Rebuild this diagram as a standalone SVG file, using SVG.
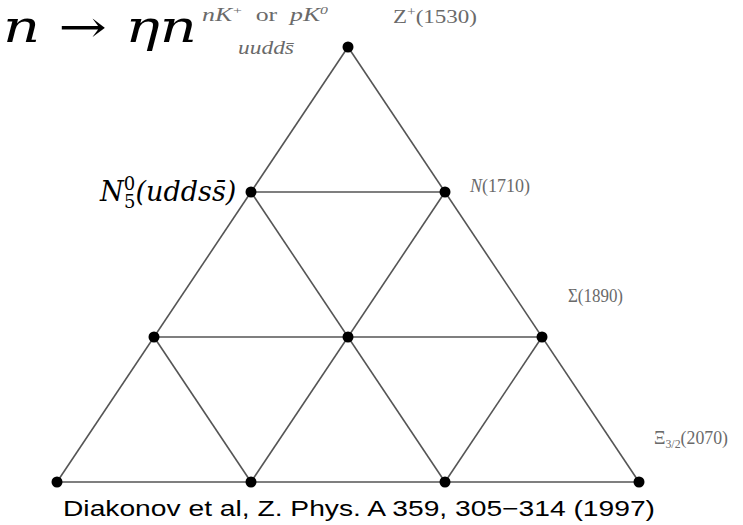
<svg xmlns="http://www.w3.org/2000/svg" width="743" height="525" viewBox="0 0 743 525">
<style>
.edge{stroke:#555;stroke-width:1.6;fill:none}
.dot{fill:#000}
.lbl{font-family:"Liberation Serif","DejaVu Serif",serif;font-size:18px;fill:#6a6a6a}
.math{font-family:"DejaVu Serif","Liberation Serif",serif;font-style:italic;fill:#000}
.cite{font-family:"Liberation Sans","Noto Sans",sans-serif;font-size:22px;fill:#000}
</style>
<rect width="743" height="525" fill="#fff"/>
<g id="connectors">
<line class="edge" x1="348" y1="47" x2="57" y2="482"/>
<line class="edge" x1="348" y1="47" x2="639" y2="482"/>
<line class="edge" x1="57" y1="482" x2="639" y2="482"/>
<line class="edge" x1="251" y1="192" x2="445" y2="192"/>
<line class="edge" x1="154" y1="337" x2="542" y2="337"/>
<line class="edge" x1="445" y1="192" x2="251" y2="482"/>
<line class="edge" x1="542" y1="337" x2="445" y2="482"/>
<line class="edge" x1="251" y1="192" x2="445" y2="482"/>
<line class="edge" x1="154" y1="337" x2="251" y2="482"/>
</g>
<g id="Z1530"><circle class="dot" cx="348" cy="47" r="5.5"/><text class="lbl" x="393" y="23" textLength="84" lengthAdjust="spacingAndGlyphs">Z<tspan font-size="12" dy="-7">+</tspan><tspan dy="7">(1530)</tspan></text></g>
<g id="N5"><circle class="dot" cx="251" cy="192" r="5.5"/></g>
<g id="N1710"><circle class="dot" cx="445" cy="192" r="5.5"/><text class="lbl" x="470" y="192" textLength="60" lengthAdjust="spacingAndGlyphs"><tspan font-style="italic">N</tspan>(1710)</text></g>
<g id="row3a"><circle class="dot" cx="154" cy="337" r="5.5"/></g>
<g id="row3b"><circle class="dot" cx="348" cy="337" r="5.5"/></g>
<g id="Sigma1890"><circle class="dot" cx="542" cy="337" r="5.5"/><text class="lbl" x="568" y="302" textLength="55" lengthAdjust="spacingAndGlyphs">Σ(1890)</text></g>
<g id="row4a"><circle class="dot" cx="57" cy="482" r="5.5"/></g>
<g id="row4b"><circle class="dot" cx="251" cy="482" r="5.5"/></g>
<g id="row4c"><circle class="dot" cx="445" cy="482" r="5.5"/></g>
<g id="Xi2070"><circle class="dot" cx="639" cy="482" r="5.5"/><text class="lbl" x="654" y="444" textLength="74" lengthAdjust="spacingAndGlyphs">Ξ<tspan font-size="12" dy="4">3/2</tspan><tspan dy="-4">(2070)</tspan></text></g>
<text class="lbl" x="202" y="21" font-style="italic" font-size="17" textLength="126" lengthAdjust="spacingAndGlyphs" xml:space="preserve">nK<tspan font-size="11" dy="-7">+</tspan><tspan dy="7" font-style="normal">  or  </tspan>pK<tspan font-size="11" dy="-7">0</tspan></text>
<text class="lbl" x="238" y="54" font-style="italic" font-size="17" textLength="56" lengthAdjust="spacingAndGlyphs">uudds̄</text>
<text class="math" x="3" y="42" font-size="44" textLength="194" lengthAdjust="spacingAndGlyphs">n → ηn</text>
<text class="math" x="100" y="201" font-size="27">N<tspan font-size="18" font-style="normal" dy="-11">0</tspan><tspan font-size="18" font-style="normal" dx="-11" dy="18">5</tspan><tspan dy="-7">(uddss̄)</tspan></text>
<text class="cite" x="63" y="516" textLength="592" lengthAdjust="spacingAndGlyphs">Diakonov et al, Z. Phys. A 359, 305−314 (1997)</text>
</svg>
